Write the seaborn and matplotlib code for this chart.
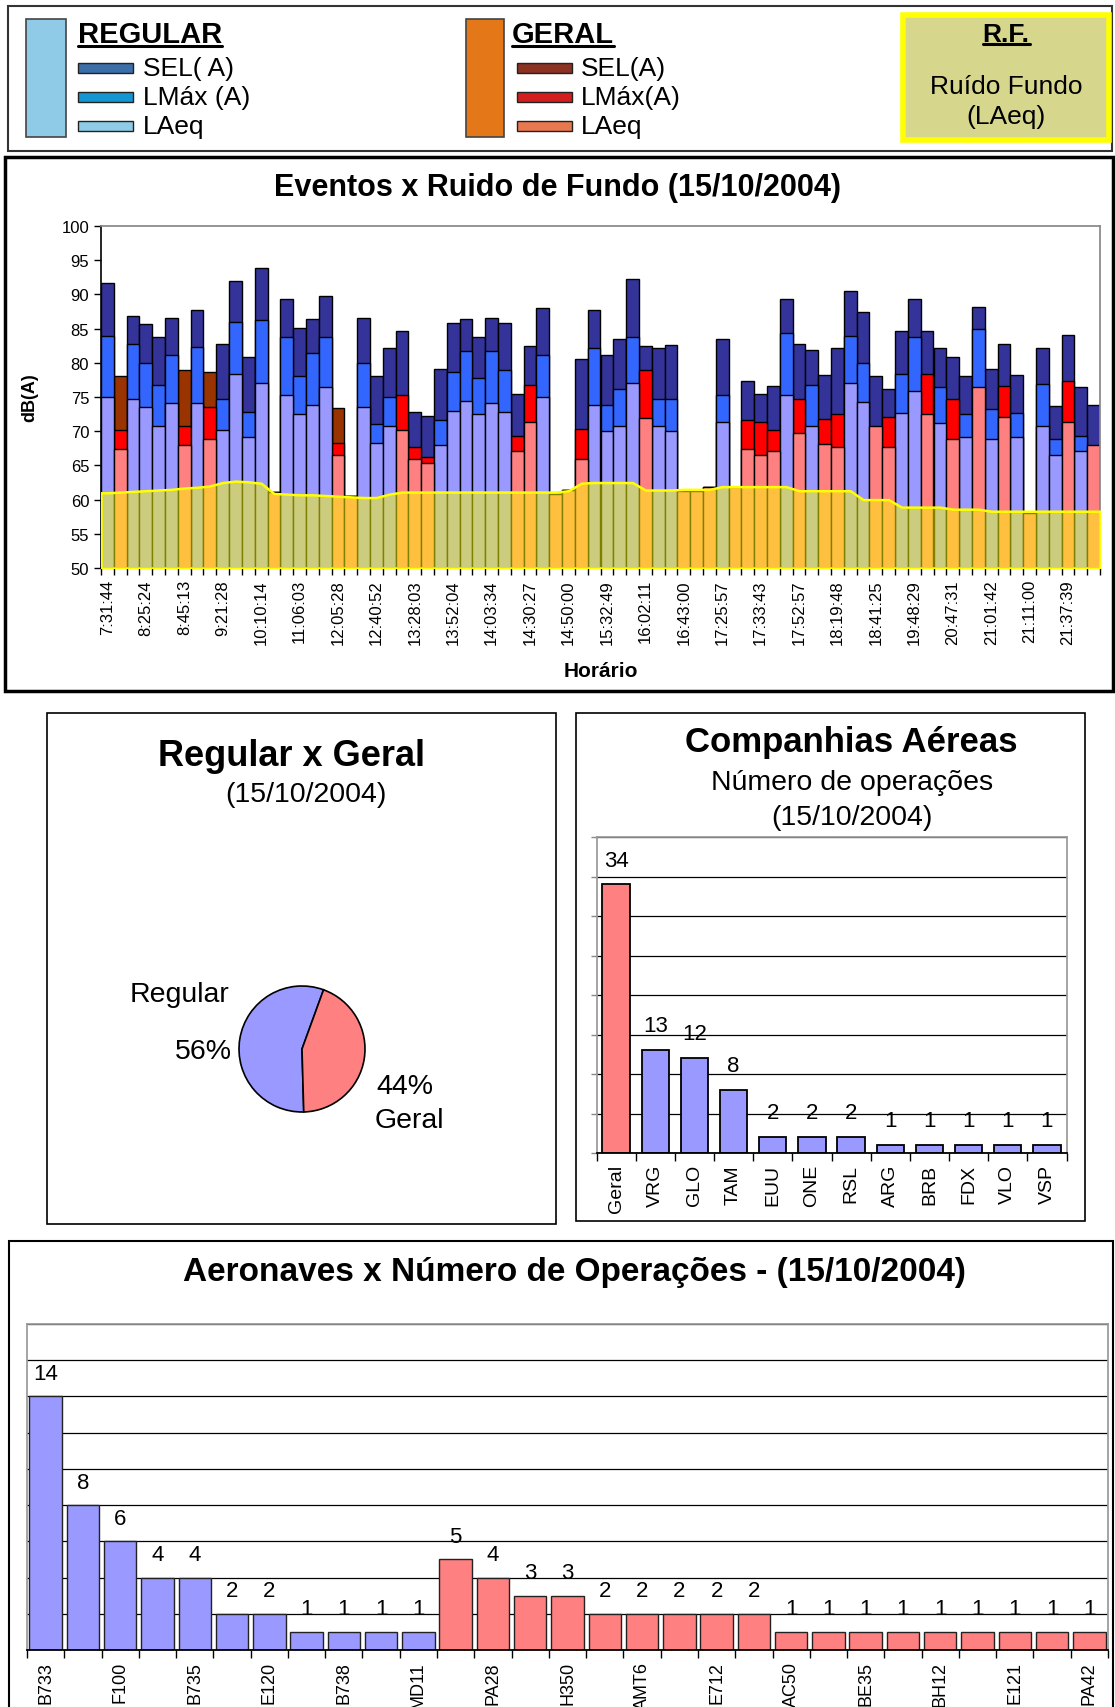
import numpy as np
import pandas as pd
import seaborn as sns
import matplotlib.pyplot as plt
from matplotlib.patches import Rectangle
from matplotlib.lines import Line2D

# ---- Eventos x Ruido de Fundo (um valor por evento / faixa horaria) ----
horarios = ["7:31:44", "8:25:24", "8:45:13", "9:21:28", "10:10:14", "11:06:03",
            "12:05:28", "12:40:52", "13:28:03", "13:52:04", "14:03:34", "14:30:27",
            "14:50:00", "15:32:49", "16:02:11", "16:43:00", "17:25:57", "17:33:43",
            "17:52:57", "18:19:48", "18:41:25", "19:48:29", "20:47:31", "21:01:42",
            "21:11:00", "21:37:39"]

sel_a = [91.6, 78.1, 86.8, 85.7, 83.8, 86.6, 79.0, 87.7, 78.7, 82.7,
         91.9, 80.8, 93.9, 61.1, 89.4, 85.1, 86.4, 89.7, 73.4, 60.5,
         86.6, 78.1, 82.1, 84.6, 72.8, 72.2, 79.1, 85.8, 86.4, 83.8,
         86.6, 85.8, 75.4, 82.5, 88.0, 60.8, 61.4, 80.5, 87.7, 81.2,
         83.5, 92.2, 82.4, 82.1, 82.6, 61.3, 61.3, 61.8, 83.5, 61.8,
         77.3, 75.4, 76.6, 89.4, 82.7, 81.8, 78.2, 82.1, 90.5, 87.5,
         78.1, 76.1, 84.6, 89.4, 84.6, 82.1, 80.9, 78.1, 88.2, 79.1,
         82.8, 78.2, 58.0, 82.1, 73.7, 84.0, 76.5, 73.9]

lmax_a = [83.9, 70.2, 82.8, 80.0, 76.7, 81.1, 70.8, 82.3, 73.6, 74.7,
          86.0, 72.8, 86.3, 61.1, 83.8, 78.1, 81.4, 83.8, 68.3, 60.5,
          80.0, 71.1, 75.0, 75.3, 67.7, 66.3, 71.7, 78.7, 81.7, 77.8,
          81.7, 79.0, 69.3, 76.7, 81.1, 60.8, 61.4, 70.3, 82.1, 73.9,
          76.1, 83.7, 78.9, 74.7, 74.7, 61.3, 61.3, 61.8, 75.3, 61.8,
          71.6, 71.4, 70.2, 84.3, 74.7, 76.7, 71.8, 72.5, 83.9, 80.0,
          67.9, 72.1, 78.3, 83.7, 78.3, 76.4, 74.7, 72.5, 85.0, 73.3,
          76.6, 72.7, 58.0, 76.9, 68.8, 77.4, 69.3, 65.2]

laeq = [75.0, 67.4, 74.7, 73.6, 70.8, 74.1, 68.0, 74.1, 68.8, 70.2,
        78.3, 69.1, 77.0, 61.1, 75.3, 72.5, 73.9, 76.4, 66.5, 60.5,
        73.6, 68.3, 70.8, 70.2, 65.9, 65.3, 68.0, 73.0, 74.4, 72.5,
        74.1, 72.8, 67.1, 71.4, 75.0, 60.8, 61.4, 66.0, 73.9, 70.0,
        70.8, 77.0, 71.9, 70.8, 70.0, 61.3, 61.3, 61.8, 71.4, 61.8,
        67.4, 66.5, 67.1, 75.3, 69.7, 70.8, 68.2, 67.7, 77.0, 74.2,
        70.8, 67.7, 72.6, 75.9, 72.5, 71.2, 68.8, 69.1, 76.4, 68.8,
        72.1, 69.1, 58.0, 70.8, 66.5, 71.4, 67.1, 68.0]

ruido_fundo = [61.0, 61.1, 61.2, 61.3, 61.4, 61.5, 61.7, 61.8, 62.0, 62.5,
               62.7, 62.6, 62.4, 60.9, 60.8, 60.7, 60.7, 60.6, 60.5, 60.4,
               60.3, 60.3, 60.8, 61.1, 61.1, 61.1, 61.1, 61.1, 61.1, 61.1,
               61.1, 61.1, 61.1, 61.1, 61.1, 61.1, 61.3, 62.4, 62.5, 62.5,
               62.5, 62.5, 61.4, 61.4, 61.4, 61.5, 61.5, 61.5, 61.9, 61.9,
               61.9, 61.9, 61.9, 61.9, 61.3, 61.3, 61.3, 61.3, 61.3, 60.0,
               60.0, 60.0, 58.9, 58.9, 58.9, 58.9, 58.6, 58.6, 58.6, 58.3,
               58.3, 58.3, 58.3, 58.3, 58.3, 58.3, 58.3, 58.3]

# serie (R = regular, G = geral) de cada segmento da barra
grupo_sel = list("RGRRRRGRGR" "RRRGRRRRGG" "RRRRRRRRRR" "RRRRRGGRRR"
                 "RRRRRGGGRG" "RRRRRRRRRR" "RRRRRRRRRR" "RRGRRRRR")
grupo_lmax = list("RGRRRRGRGR" "RRRGRRRRGG" "RRRGGGRRRR" "RRGGRGGGRR"
                  "RRGRRGGGRG" "GGGRGRGGRR" "GGRRGRGRRR" "GRGRRGRG")
grupo_laeq = list("RGRRRRGRGR" "RRRGRRRRGG" "RRRGGGRRRR" "RRGGRGGGRR"
                  "RRGRRGGGRG" "GGGRGRGGRR" "GGRRGRGRGR" "GRGRRGRG")

# ---- Regular x Geral ----
setores = ["Regular", "Geral"]
percentuais = [56, 44]

# ---- Companhias aereas ----
companhias = ["Geral", "VRG", "GLO", "TAM", "EUU", "ONE", "RSL", "ARG", "BRB", "FDX", "VLO", "VSP"]
operacoes_cia = [34, 13, 12, 8, 2, 2, 2, 1, 1, 1, 1, 1]
tipo_cia = ["Geral"] + ["Regular"] * 11

# ---- Aeronaves (rotulo visivel a cada duas barras) ----
aeronaves_rotulos = ["B733", "F100", "B735", "E120", "B738", "MD11", "PA28", "H350",
                     "AMT6", "E712", "AC50", "BE35", "BH12", "E121", "PA42"]
operacoes_aeronave = [14, 8, 6, 4, 4, 2, 2, 1, 1, 1, 1,
                      5, 4, 3, 3, 2, 2, 2, 2, 2, 1, 1, 1, 1, 1, 1, 1, 1, 1]
tipo_aeronave = ["Regular"] * 11 + ["Geral"] * 18

# cores
AZUL_ESC, AZUL, LILAS = "#333399", "#3366FF", "#9999FF"
MARROM, VERMELHO, ROSA = "#993300", "#FF0000", "#FF8080"

sns.set_theme(style="white")
plt.rcParams["font.family"] = ["Liberation Sans", "DejaVu Sans"]
plt.rcParams["text.color"] = "black"
plt.rcParams["axes.labelcolor"] = "black"
plt.rcParams["xtick.color"] = "black"
plt.rcParams["ytick.color"] = "black"

W, H = 1115, 1708
fig = plt.figure(figsize=(W / 100, H / 100), dpi=100)
fig.patch.set_facecolor("white")


def fx(x):
    return x / W


def fy(y):
    return 1 - y / H


def area(x0, y0, x1, y1):
    return [fx(x0), fy(y1), (x1 - x0) / W, (y1 - y0) / H]


def moldura(x0, y0, x1, y1, lw=1.2, cor="black", fundo=None, z=0):
    fig.add_artist(Rectangle((fx(x0), fy(y1)), (x1 - x0) / W, (y1 - y0) / H,
                             transform=fig.transFigure, fill=fundo is not None,
                             facecolor=fundo, edgecolor=cor, lw=lw, zorder=z))


def texto(x, y, s, **kw):
    kw.setdefault("ha", "center")
    kw.setdefault("va", "center")
    return fig.text(fx(x), fy(y), s, **kw)


# ================= legenda =================
moldura(8, 7, 1112, 152, lw=1.5, cor="#333333")
moldura(26, 20, 66, 138, lw=1.2, cor="#444444", fundo="#8FCBE6")
moldura(466, 20, 504, 138, lw=1.2, cor="#444444", fundo="#E47818")
sublinhados = []
sublinhados.append(texto(78, 35, "REGULAR", fontsize=21, fontweight="bold", ha="left"))
sublinhados.append(texto(512, 35, "GERAL", fontsize=21, fontweight="bold", ha="left"))
itens_reg = [("SEL( A)", "#3C6EAA"), ("LMáx (A)", "#1496D2"), ("LAeq", "#8FCBE6")]
itens_ger = [("SEL(A)", "#8C3223"), ("LMáx(A)", "#D21E1E"), ("LAeq", "#E87850")]
for (nome, cor), y in zip(itens_reg, [69, 98, 127]):
    moldura(78, y - 5, 133, y + 5, lw=1, cor="#222222", fundo=cor)
    texto(143, y, nome, fontsize=19, ha="left")
for (nome, cor), y in zip(itens_ger, [69, 98, 127]):
    moldura(517, y - 5, 572, y + 5, lw=1, cor="#222222", fundo=cor)
    texto(581, y, nome, fontsize=19, ha="left")
moldura(903, 16, 1109, 141, lw=4, cor="#FFFF00", fundo="#D6D68C")
sublinhados.append(texto(1006, 35, "R.F.", fontsize=19, fontweight="bold"))
texto(1006, 87, "Ruído Fundo", fontsize=19)
texto(1006, 117, "(LAeq)", fontsize=19)

# ================= eventos x ruido de fundo =================
moldura(5, 158, 1113, 692, lw=2.5)
texto(557, 188, "Eventos x Ruido de Fundo (15/10/2004)", fontsize=22, fontweight="bold")

eventos = pd.DataFrame({"slot": np.arange(len(sel_a)), "SEL": sel_a, "LMax": lmax_a,
                        "LAeq": laeq, "g_SEL": grupo_sel, "g_LMax": grupo_lmax,
                        "g_LAeq": grupo_laeq})
camadas = [("SEL", "g_SEL", {"R": AZUL_ESC, "G": MARROM}),
           ("LMax", "g_LMax", {"R": AZUL, "G": VERMELHO}),
           ("LAeq", "g_LAeq", {"R": LILAS, "G": ROSA})]

ax1 = fig.add_axes(area(101, 227, 1100, 569))
for col, grupo, paleta in camadas:
    sns.barplot(data=eventos, x="slot", y=col, hue=grupo, palette=paleta, dodge=False,
                width=1.0, saturation=1, edgecolor="black", linewidth=1.0,
                errorbar=None, legend=False, ax=ax1)

n = len(ruido_fundo)
xs = np.r_[-0.5, np.arange(n), n - 0.5]
rf = np.r_[ruido_fundo[0], ruido_fundo, ruido_fundo[-1]]
ax1.fill_between(xs, 50, rf, facecolor=(1, 1, 0, 0.5), edgecolor="#FFFF00",
                 linewidth=1.8, zorder=5)
ax1.set_xlim(-0.5, n - 0.5)
ax1.set_ylim(50, 100)
ax1.set_yticks(range(50, 101, 5))
ax1.set_xticks(range(0, n, 3), horarios, rotation=90)
ax1.set_xticks(np.arange(-0.5, n, 1), minor=True)
ax1.tick_params(axis="x", which="major", length=0, labelsize=12, pad=8, bottom=True)
ax1.tick_params(axis="x", which="minor", length=5, width=1, color="black", bottom=True)
ax1.tick_params(axis="y", length=5, width=1, color="black", labelsize=12, left=True)
for s in ["top", "right"]:
    ax1.spines[s].set_color("#888888")
for s in ["left", "bottom"]:
    ax1.spines[s].set_color("black")
    ax1.spines[s].set_linewidth(1.2)
ax1.set_xlabel("Horário", fontsize=15, fontweight="bold")
ax1.set_ylabel("dB(A)", fontsize=13, fontweight="bold")
ax1.xaxis.set_label_coords(0.5, -0.30)
ax1.xaxis.label.set_verticalalignment("center")
ax1.yaxis.set_label_coords(-0.071, 0.5)
ax1.yaxis.label.set_verticalalignment("center")

# ================= regular x geral =================
moldura(47, 714, 556, 1225, lw=1.2)
texto(292, 757, "Regular x Geral", fontsize=26, fontweight="bold")
texto(306, 795, "(15/10/2004)", fontsize=20.5)
R = 63
ax2 = fig.add_axes(area(302 - 150, 1050 - 150, 302 + 150, 1050 + 150))
ax2.pie(percentuais, colors=[LILAS, ROSA], startangle=70, counterclock=True,
        wedgeprops=dict(edgecolor="black", linewidth=1.2))
lim = 150 / R
ax2.set_xlim(-lim, lim)
ax2.set_ylim(-lim, lim)
ax2.set_aspect("equal")
ax2.axis("off")
pos_nome = [(-1.95, 0.87), (1.70, -1.13)]
pos_pct = [(-1.57, -0.03), (1.63, -0.59)]
for nome, pct, pn, pp in zip(setores, percentuais, pos_nome, pos_pct):
    ax2.text(*pn, nome, fontsize=20.5, ha="center", va="center")
    ax2.text(*pp, f"{pct}%", fontsize=20.5, ha="center", va="center")

# ================= companhias aereas =================
moldura(576, 714, 1085, 1222, lw=1.2)
texto(851, 743, "Companhias Aéreas", fontsize=25, fontweight="bold")
texto(852, 783, "Número de operações", fontsize=20.5)
texto(852, 818, "(15/10/2004)", fontsize=20.5)

cias = pd.DataFrame({"cia": companhias, "ops": operacoes_cia, "tipo": tipo_cia})
ax3 = fig.add_axes(area(596.5, 838, 1066.5, 1154))
sns.barplot(data=cias, x="cia", y="ops", hue="tipo", order=companhias,
            palette={"Geral": ROSA, "Regular": LILAS}, dodge=False, width=0.7,
            saturation=1, edgecolor="black", linewidth=1.3, errorbar=None,
            legend=False, ax=ax3)
ax3.set_ylim(0, 40)
ax3.set_yticks(range(0, 41, 5))
ax3.set_yticklabels([])
ax3.yaxis.grid(True, color="black", linewidth=0.9)
ax3.set_axisbelow(True)
for i, v in enumerate(operacoes_cia):
    ax3.annotate(str(v), (i, v), xytext=(0, 10), textcoords="offset points",
                 ha="center", va="bottom", fontsize=16)
ax3.set_xlim(-0.5, len(companhias) - 0.5)
ax3.set_xticks(range(len(companhias)), companhias, rotation=90)
ax3.set_xticks(np.arange(-0.5, len(companhias), 1), minor=True)
ax3.tick_params(axis="x", which="major", length=0, labelsize=14, pad=8)
ax3.tick_params(axis="x", which="minor", length=6, width=1, color="black", bottom=True)
ax3.tick_params(axis="y", length=4, width=1, color="#888888", left=True)
ax3.set_xlabel("")
ax3.set_ylabel("")
for s in ["top", "right", "left"]:
    ax3.spines[s].set_color("#999999")
ax3.spines["bottom"].set_color("black")
ax3.spines["bottom"].set_linewidth(1.3)

# ================= aeronaves =================
moldura(9, 1242, 1113, 1730, lw=1.5)
texto(574, 1272, "Aeronaves x Número de Operações - (15/10/2004)", fontsize=24,
      fontweight="bold")

naves = pd.DataFrame({"pos": np.arange(len(operacoes_aeronave)),
                      "ops": operacoes_aeronave, "tipo": tipo_aeronave})
ax4 = fig.add_axes(area(27, 1325, 1108, 1651))
sns.barplot(data=naves, x="pos", y="ops", hue="tipo",
            palette={"Geral": ROSA, "Regular": LILAS}, dodge=False, width=0.87,
            saturation=1, edgecolor="#222222", linewidth=1.0, errorbar=None,
            legend=False, ax=ax4)
ax4.set_ylim(0, 18)
ax4.set_yticks(range(0, 19, 2))
ax4.set_yticklabels([])
ax4.yaxis.grid(True, color="black", linewidth=0.9)
ax4.set_axisbelow(True)
for i, v in enumerate(operacoes_aeronave):
    ax4.annotate(str(v), (i, v), xytext=(0, 9), textcoords="offset points",
                 ha="center", va="bottom", fontsize=16)
m = len(operacoes_aeronave)
ax4.set_xlim(-0.5, m - 0.5)
ax4.set_xticks(range(0, m, 2), aeronaves_rotulos, rotation=90)
ax4.set_xticks(np.arange(-0.5, m, 1), minor=True)
ax4.tick_params(axis="x", which="major", length=0, labelsize=13, pad=8)
ax4.tick_params(axis="x", which="minor", length=6, width=1, color="black", bottom=True)
ax4.tick_params(axis="y", length=0)
ax4.set_xlabel("")
ax4.set_ylabel("")
for s in ["top", "right", "left"]:
    ax4.spines[s].set_color("#999999")
ax4.spines["bottom"].set_color("black")
ax4.spines["bottom"].set_linewidth(1.3)

# sublinhado dos titulos da legenda
fig.canvas.draw()
for t in sublinhados:
    bb = t.get_window_extent()
    yb = (bb.y0 + 2) / H
    fig.add_artist(Line2D([bb.x0 / W, bb.x1 / W], [yb, yb], transform=fig.transFigure,
                          color="black", linewidth=2.2))

fig.savefig("out.png", dpi=100)
